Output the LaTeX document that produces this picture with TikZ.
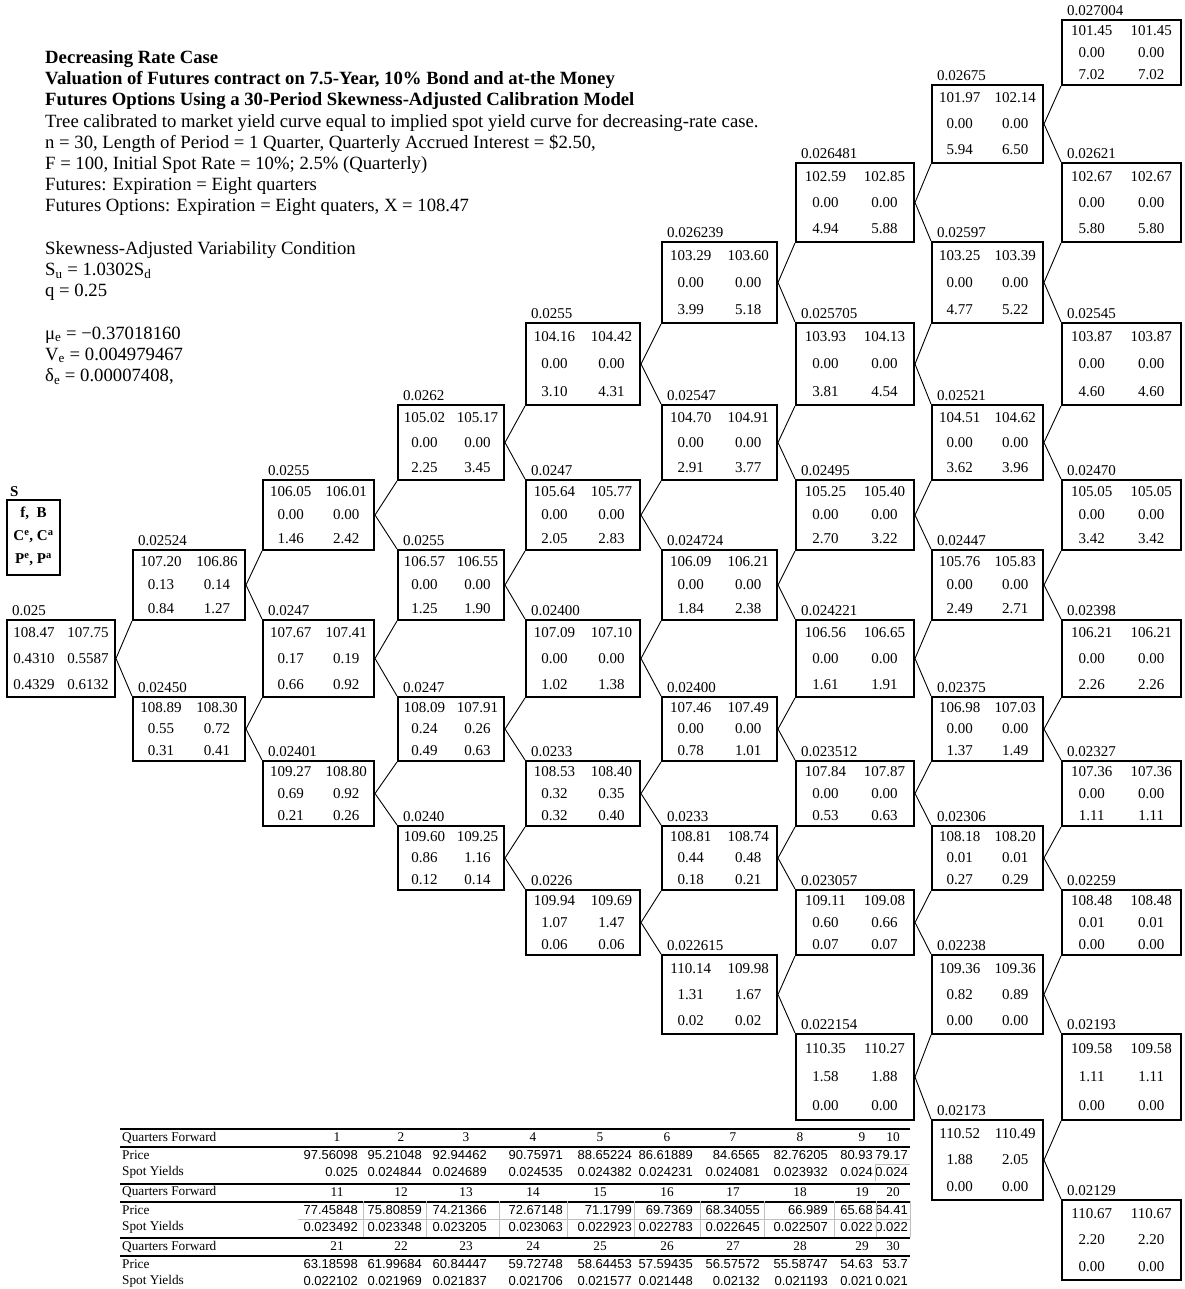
\documentclass[tikz,border=0pt]{standalone}
\usepackage{fontspec}
\setmainfont{Liberation Serif}
\setsansfont{Liberation Sans}
\usetikzlibrary{calc}

\begin{document}
\begin{tikzpicture}[x=1pt, y=-1pt,
    tbox/.style={draw, line width=2pt, inner sep=0pt},
    val/.style={inner sep=0pt, font=\fontsize{15}{18}\selectfont},
    rate/.style={anchor=south west, inner xsep=5pt, inner ysep=4pt, font=\fontsize{15}{18}\selectfont},
    link/.style={line width=0.9pt},
    hdr/.style={anchor=base west, inner sep=0pt, font=\fontsize{18.7}{21}\selectfont},
    rowlab/.style={anchor=west, inner sep=0pt, font=\fontsize{13.3}{16}\selectfont},
    qnum/.style={inner sep=0pt, font=\fontsize{13.3}{16}\selectfont},
    qval/.style={anchor=east, inner sep=0pt, font=\sffamily\fontsize{13}{16}\selectfont},
    tabrule/.style={line width=2pt},
    cellrule/.style={line width=0.8pt, black!25}]
    \useasboundingbox (0,0) rectangle (1184,1289);

    % header text
    \foreach \k/\txt in {0/{\textbf{Decreasing Rate Case}},
        1/{\textbf{Valuation of Futures contract on 7.5-Year, 10\% Bond and at-the Money}},
        2/{\textbf{Futures Options Using a 30-Period Skewness-Adjusted Calibration Model}},
        3/{Tree calibrated to market yield curve equal to implied  spot yield curve for decreasing-rate case.},
        4/{n = 30, Length of Period = 1 Quarter, Quarterly Accrued Interest = \$2.50,},
        5/{F = 100, Initial  Spot Rate = 10\%; 2.5\% (Quarterly)},
        6/{Futures: Expiration =  Eight quarters},
        7/{Futures Options: Expiration = Eight quaters, X = 108.47},
        9/{Skewness-Adjusted Variability  Condition},
        10/{S\textsubscript{u} = 1.0302S\textsubscript{d}},
        11/{q = 0.25},
        13/{μ\textsubscript{e} = −0.37018160},
        14/{V\textsubscript{e} = 0.004979467},
        15/{δ\textsubscript{e} = 0.00007408,}}
        \node[hdr] (hd\k) at (45,{63.5+21.2*\k}) {\txt};

    % legend box
    \node[anchor=west, inner sep=0pt, font=\bfseries\fontsize{15}{18}\selectfont] (legS) at (10,492) {S};
    \node[tbox, minimum width=53pt, minimum height=75pt] (leg) at (33.5,537.5) {};
    \foreach \k/\txt in {0/{f,\ \ B}, 1/{C\textsuperscript{e}, C\textsuperscript{a}}, 2/{P\textsuperscript{e}, P\textsuperscript{a}}}
        \node[val, font=\bfseries\fontsize{15}{18}\selectfont] (leg\k) at (33.5,{513+23.5*\k}) {\txt};

    % tree: column/index/rate/f/B/Ce/Ca/Pe/Pa
    \foreach \c/\i/\rt/\fa/\fb/\ca/\cb/\pa/\pb in {
        0/0/0.025/108.47/107.75/0.4310/0.5587/0.4329/0.6132,
        1/0/0.02524/107.20/106.86/0.13/0.14/0.84/1.27,
        1/1/0.02450/108.89/108.30/0.55/0.72/0.31/0.41,
        2/0/0.0255/106.05/106.01/0.00/0.00/1.46/2.42,
        2/1/0.0247/107.67/107.41/0.17/0.19/0.66/0.92,
        2/2/0.02401/109.27/108.80/0.69/0.92/0.21/0.26,
        3/0/0.0262/105.02/105.17/0.00/0.00/2.25/3.45,
        3/1/0.0255/106.57/106.55/0.00/0.00/1.25/1.90,
        3/2/0.0247/108.09/107.91/0.24/0.26/0.49/0.63,
        3/3/0.0240/109.60/109.25/0.86/1.16/0.12/0.14,
        4/0/0.0255/104.16/104.42/0.00/0.00/3.10/4.31,
        4/1/0.0247/105.64/105.77/0.00/0.00/2.05/2.83,
        4/2/0.02400/107.09/107.10/0.00/0.00/1.02/1.38,
        4/3/0.0233/108.53/108.40/0.32/0.35/0.32/0.40,
        4/4/0.0226/109.94/109.69/1.07/1.47/0.06/0.06,
        5/0/0.026239/103.29/103.60/0.00/0.00/3.99/5.18,
        5/1/0.02547/104.70/104.91/0.00/0.00/2.91/3.77,
        5/2/0.024724/106.09/106.21/0.00/0.00/1.84/2.38,
        5/3/0.02400/107.46/107.49/0.00/0.00/0.78/1.01,
        5/4/0.0233/108.81/108.74/0.44/0.48/0.18/0.21,
        5/5/0.022615/110.14/109.98/1.31/1.67/0.02/0.02,
        6/0/0.026481/102.59/102.85/0.00/0.00/4.94/5.88,
        6/1/0.025705/103.93/104.13/0.00/0.00/3.81/4.54,
        6/2/0.02495/105.25/105.40/0.00/0.00/2.70/3.22,
        6/3/0.024221/106.56/106.65/0.00/0.00/1.61/1.91,
        6/4/0.023512/107.84/107.87/0.00/0.00/0.53/0.63,
        6/5/0.023057/109.11/109.08/0.60/0.66/0.07/0.07,
        6/6/0.022154/110.35/110.27/1.58/1.88/0.00/0.00,
        7/0/0.02675/101.97/102.14/0.00/0.00/5.94/6.50,
        7/1/0.02597/103.25/103.39/0.00/0.00/4.77/5.22,
        7/2/0.02521/104.51/104.62/0.00/0.00/3.62/3.96,
        7/3/0.02447/105.76/105.83/0.00/0.00/2.49/2.71,
        7/4/0.02375/106.98/107.03/0.00/0.00/1.37/1.49,
        7/5/0.02306/108.18/108.20/0.01/0.01/0.27/0.29,
        7/6/0.02238/109.36/109.36/0.82/0.89/0.00/0.00,
        7/7/0.02173/110.52/110.49/1.88/2.05/0.00/0.00,
        8/0/0.027004/101.45/101.45/0.00/0.00/7.02/7.02,
        8/1/0.02621/102.67/102.67/0.00/0.00/5.80/5.80,
        8/2/0.02545/103.87/103.87/0.00/0.00/4.60/4.60,
        8/3/0.02470/105.05/105.05/0.00/0.00/3.42/3.42,
        8/4/0.02398/106.21/106.21/0.00/0.00/2.26/2.26,
        8/5/0.02327/107.36/107.36/0.00/0.00/1.11/1.11,
        8/6/0.02259/108.48/108.48/0.01/0.01/0.00/0.00,
        8/7/0.02193/109.58/109.58/1.11/1.11/0.00/0.00,
        8/8/0.02129/110.67/110.67/2.20/2.20/0.00/0.00}
    {
        \pgfmathtruncatemacro\k{8-\c+2*\i}
        \pgfmathsetmacro\xl{{7,133,263,398,526,662,796,932,1062}[\c]}
        \pgfmathsetmacro\xr{{115,245,374,504,640,777,914,1043,1181}[\c]}
        \pgfmathsetmacro\yt{{20,85,163,242,323,405,480,550,620,697,761,826,890,955,1034,1120,1200,1280}[\k]}
        \pgfmathsetmacro\yb{{20,85,163,242,323,405,480,550,620,697,761,826,890,955,1034,1120,1200,1280}[\k+1]}
        \pgfmathsetmacro\w{\xr-\xl}
        \pgfmathsetmacro\h{\yb-\yt}
        \node[tbox, minimum width=\w pt, minimum height=\h pt] (n\c-\i) at ({(\xl+\xr)/2},{(\yt+\yb)/2}) {};
        \node[rate] (r\c-\i) at (\xl,\yt) {\rt};
        \node[val] (n\c-\i-fa) at ({\xl+0.25*\w},{\yt+\h/6}) {\fa};
        \node[val] (n\c-\i-fb) at ({\xl+0.75*\w},{\yt+\h/6}) {\fb};
        \node[val] (n\c-\i-ca) at ({\xl+0.25*\w},{\yt+\h/2}) {\ca};
        \node[val] (n\c-\i-cb) at ({\xl+0.75*\w},{\yt+\h/2}) {\cb};
        \node[val] (n\c-\i-pa) at ({\xl+0.25*\w},{\yt+5*\h/6}) {\pa};
        \node[val] (n\c-\i-pb) at ({\xl+0.75*\w},{\yt+5*\h/6}) {\pb};
    }

    % branches
    \foreach \c in {0,...,7} {
        \pgfmathtruncatemacro\cn{\c+1}
        \foreach \i in {0,...,\c} {
            \pgfmathtruncatemacro\ii{\i+1}
            \draw[link] (n\c-\i.east) -- (n\cn-\i.south west);
            \draw[link] (n\c-\i.east) -- (n\cn-\ii.north west);
        }
    }

    % spot yield table
    \foreach \b/\plist/\ylist in {
        0/{97.56098,95.21048,92.94462,90.75971,88.65224,86.61889,84.6565,82.76205,80.93,79.17}/{0.025,0.024844,0.024689,0.024535,0.024382,0.024231,0.024081,0.023932,0.024,0.024},
        1/{77.45848,75.80859,74.21366,72.67148,71.1799,69.7369,68.34055,66.989,65.68,64.41}/{0.023492,0.023348,0.023205,0.023063,0.022923,0.022783,0.022645,0.022507,0.022,0.022},
        2/{63.18598,61.99684,60.84447,59.72748,58.64453,57.59435,56.57572,55.58747,54.63,53.7}/{0.022102,0.021969,0.021837,0.021706,0.021577,0.021448,0.02132,0.021193,0.021,0.021}}
    {
        \pgfmathsetmacro\yb{1129+54.5*\b}
        \draw[tabrule] (120,\yb) -- (910,\yb);
        \draw[tabrule] (120,\yb+18) -- (910,\yb+18);
        \node[rowlab] (qf\b) at (122,\yb+8.5) {Quarters Forward};
        \node[rowlab] (pr\b) at (122,\yb+26.5) {Price};
        \node[rowlab] (sy\b) at (122,\yb+43.5) {Spot Yields};
        \foreach \v [count=\j from 0] in \plist {
            \pgfmathsetmacro\xr{{358,422,487,563,632,693,760,828,873,908}[\j]}
            \pgfmathsetmacro\xq{{337,401,466,533,600,667,733,800,862,893}[\j]}
            \pgfmathtruncatemacro\q{10*\b+\j+1}
            \node[qnum] (q\q) at (\xq,\yb+8.5) {\q};
            \node[qval] (p\q) at (\xr,\yb+26.5) {\v};
        }
        \foreach \v [count=\j from 0] in \ylist {
            \pgfmathsetmacro\xr{{358,422,487,563,632,693,760,828,873,908}[\j]}
            \pgfmathtruncatemacro\q{10*\b+\j+1}
            \node[qval] (y\q) at (\xr,\yb+43.5) {\v};
        }
    }
    \foreach \x in {363,426,499,567,634,700,764,834,876,910}
        \draw[cellrule] (\x,1201) -- (\x,1237);
    \draw[cellrule] (298,1219) -- (910,1219);
    \draw[cellrule] (875,1164) -- (910,1164) (875,1164) -- (875,1181);
\end{tikzpicture}
\end{document}
